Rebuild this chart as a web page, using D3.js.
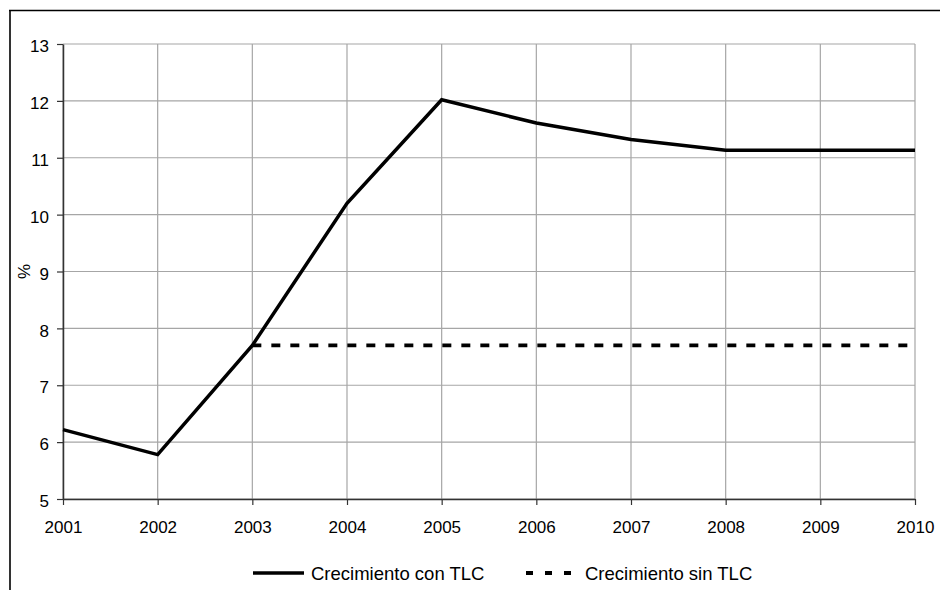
<!DOCTYPE html>
<html>
<head>
<meta charset="utf-8">
<script src="https://cdn.jsdelivr.net/npm/d3@7"></script>
<style>
  body { margin: 0; background: #fff; }
  svg { display: block; font-family: "Liberation Sans", Arial, sans-serif; }
</style>
</head>
<body>
<svg width="940" height="590"></svg>
<script>
// data
var years = [2001, 2002, 2003, 2004, 2005, 2006, 2007, 2008, 2009, 2010];
var conTLC = [6.22, 5.78, 7.70, 10.20, 12.02, 11.61, 11.32, 11.13, 11.13, 11.13];
var sinYears = [2003, 2004, 2005, 2006, 2007, 2008, 2009, 2010];
var sinTLC = [7.70, 7.70, 7.70, 7.70, 7.70, 7.70, 7.70, 7.70];
var yTicks = [5, 6, 7, 8, 9, 10, 11, 12, 13];
var seriesNames = ["Crecimiento con TLC", "Crecimiento sin TLC"];

var svg = d3.select("svg");

// outer frame (top and left only visible)
svg.append("path")
  .attr("d", "M9,10.5H940M10,10V590")
  .style("fill", "none")
  .style("stroke", "#000")
  .style("stroke-width", 1.6);

var pLeft = 63, pRight = 915, pTop = 44, pBottom = 499;

var x = d3.scaleLinear().domain([2001, 2010]).range([pLeft, pRight]);
var y = d3.scaleLinear().domain([5, 13]).range([pBottom, pTop]);

// grid
var g = svg.append("g");
g.selectAll(".hgrid")
  .data(yTicks)
  .enter().append("line")
  .attr("x1", pLeft).attr("x2", pRight)
  .attr("y1", function(d) { return y(d); })
  .attr("y2", function(d) { return y(d); })
  .style("stroke", "#a6a6a6")
  .style("stroke-width", 1.2);

g.selectAll(".vgrid")
  .data(years)
  .enter().append("line")
  .attr("x1", function(d) { return x(d); })
  .attr("x2", function(d) { return x(d); })
  .attr("y1", pTop).attr("y2", pBottom)
  .style("stroke", "#a6a6a6")
  .style("stroke-width", 1.2);

// axes
var xAxis = svg.append("g")
  .attr("transform", "translate(0," + pBottom + ")")
  .call(d3.axisBottom(x).tickValues(years).tickFormat(d3.format("d")).tickSizeInner(6).tickSizeOuter(0).tickPadding(16));

var yAxis = svg.append("g")
  .attr("transform", "translate(" + pLeft + ",0)")
  .call(d3.axisLeft(y).tickValues(yTicks).tickSizeInner(6).tickSizeOuter(0).tickPadding(8));

[xAxis, yAxis].forEach(function(a) {
  a.select(".domain").style("stroke", "#333").style("stroke-width", 1.5);
  a.selectAll(".tick line").style("stroke", "#333").style("stroke-width", 1.2);
  a.selectAll(".tick text")
    .style("font-family", "'Liberation Sans', Arial, sans-serif")
    .style("font-size", "17px")
    .style("fill", "#000");
});
yAxis.selectAll(".tick text").attr("dy", "0.45em");

// y label
svg.append("text")
  .attr("transform", "translate(30," + y(9) + ")rotate(-90)")
  .attr("text-anchor", "middle")
  .style("font-size", "17px")
  .text("%");

// lines
var line = d3.line()
  .x(function(d) { return x(d[0]); })
  .y(function(d) { return y(d[1]); });

svg.append("path")
  .datum(sinYears.map(function(d, i) { return [d, sinTLC[i]]; }))
  .attr("d", line)
  .style("fill", "none")
  .style("stroke", "#000")
  .style("stroke-width", 3.8)
  .style("stroke-dasharray", "9,10");

svg.append("path")
  .datum(years.map(function(d, i) { return [d, conTLC[i]]; }))
  .attr("d", line)
  .style("fill", "none")
  .style("stroke", "#000")
  .style("stroke-width", 3.5)
  .style("stroke-linejoin", "miter");

// legend
var legend = svg.append("g");
legend.append("line")
  .attr("x1", 253).attr("x2", 304).attr("y1", 573).attr("y2", 573)
  .style("stroke", "#000").style("stroke-width", 3.5);
legend.append("text")
  .attr("x", 311).attr("y", 580)
  .style("font-size", "18.5px")
  .text(seriesNames[0]);

legend.append("line")
  .attr("x1", 526).attr("x2", 575).attr("y1", 573).attr("y2", 573)
  .style("stroke", "#000").style("stroke-width", 3.8)
  .style("stroke-dasharray", "7,12");
legend.append("text")
  .attr("x", 585).attr("y", 580)
  .style("font-size", "18.5px")
  .text(seriesNames[1]);
</script>
</body>
</html>
